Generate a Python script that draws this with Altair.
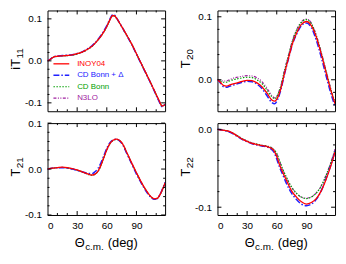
import altair as alt
import pandas as pd

FONT = "Liberation Sans"
FRAME = "#000000"

SERIES = ["INOY04", "CD Bonn + Δ", "CD Bonn", "N3LO"]
COLORS = ["#ff0000", "#2020ff", "#00a000", "#a020a0"]
DASHES = [[], [6, 2, 1.5, 2], [1.5, 1.5], [3, 1.5, 1, 1.5, 1, 1.5]]
WIDTHS = [1.3, 1.5, 1.2, 1.2]
DRAW_ORDER = [3, 2, 1, 0]

X_DOMAIN = [0, 119]
X_LABELS = [0, 30, 60, 90]
X_MINOR = [10, 20, 40, 50, 70, 80, 100, 110]

# ---- iT11 ----
ANG11 = [0, 3, 5, 8, 10, 15, 20, 25, 30, 35, 40, 45, 50, 55, 60, 63, 66, 68, 70, 75, 80, 85, 90, 95, 100, 105, 110, 113, 116, 119]
T11_INOY = [0.0, 0.004, 0.0075, 0.0105, 0.011, 0.012, 0.013, 0.014, 0.017, 0.021, 0.027, 0.035, 0.047, 0.062, 0.082, 0.097, 0.108, 0.107, 0.101, 0.082, 0.062, 0.041, 0.017, -0.007, -0.031, -0.055, -0.080, -0.095, -0.108, -0.104]
T11_CDBD = [0.0, 0.004, 0.008, 0.011, 0.0115, 0.0125, 0.0135, 0.0145, 0.0175, 0.0215, 0.028, 0.036, 0.048, 0.064, 0.084, 0.099, 0.110, 0.109, 0.102, 0.082, 0.061, 0.040, 0.016, -0.008, -0.032, -0.056, -0.082, -0.097, -0.109, -0.103]
T11_CDB = [0.0, 0.004, 0.0075, 0.010, 0.0105, 0.0115, 0.0125, 0.0135, 0.0165, 0.0205, 0.0265, 0.0345, 0.0465, 0.0615, 0.0815, 0.0965, 0.1075, 0.1065, 0.1005, 0.0815, 0.0615, 0.0405, 0.0165, -0.0075, -0.0315, -0.0555, -0.0805, -0.0955, -0.1075, -0.1035]
T11_N3LO = [0.0, 0.004, 0.0075, 0.010, 0.0105, 0.0115, 0.0125, 0.0135, 0.0165, 0.0205, 0.0265, 0.0345, 0.0465, 0.0615, 0.0815, 0.0965, 0.1078, 0.1068, 0.1008, 0.0818, 0.0618, 0.0408, 0.0168, -0.0072, -0.0312, -0.0552, -0.0802, -0.0952, -0.1072, -0.1032]

# ---- T20 ----
ANG20 = [0, 3, 6, 9, 12, 16, 20, 25, 30, 35, 40, 45, 50, 55, 58, 61, 64, 68, 72, 76, 80, 85, 90, 95, 100, 105, 110, 115, 119]
T20_INOY = [0.0, -0.004, -0.009, -0.010, -0.0085, -0.0065, -0.005, -0.0025, -0.001, -0.0015, -0.005, -0.011, -0.021, -0.032, -0.034, -0.028, -0.015, 0.011, 0.035, 0.058, 0.074, 0.088, 0.0925, 0.086, 0.068, 0.041, 0.011, -0.018, -0.038]
T20_CDBD = [0.0, -0.005, -0.011, -0.012, -0.0105, -0.0085, -0.0065, -0.004, -0.0025, -0.003, -0.007, -0.014, -0.025, -0.036, -0.038, -0.031, -0.017, 0.010, 0.034, 0.057, 0.072, 0.086, 0.090, 0.083, 0.063, 0.036, 0.006, -0.023, -0.042]
T20_CDB = [0.0, -0.002, -0.004, -0.004, -0.002, 0.0, 0.0015, 0.003, 0.004, 0.0035, 0.0, -0.006, -0.016, -0.027, -0.030, -0.024, -0.011, 0.015, 0.039, 0.062, 0.078, 0.091, 0.0955, 0.089, 0.070, 0.043, 0.013, -0.017, -0.037]
T20_N3LO = [0.0, -0.001, -0.002, -0.002, 0.0, 0.0025, 0.004, 0.0055, 0.0065, 0.006, 0.003, -0.003, -0.013, -0.025, -0.029, -0.023, -0.010, 0.016, 0.040, 0.063, 0.079, 0.092, 0.0965, 0.090, 0.071, 0.044, 0.014, -0.016, -0.036]

# ---- T21 ----
ANG21 = [0, 5, 10, 15, 20, 25, 30, 35, 40, 45, 48, 51, 54, 57, 60, 63, 66, 70, 73, 76, 80, 85, 90, 95, 100, 105, 108, 111, 114, 117, 119]
T21_INOY = [0.0, 0.002, 0.003, 0.004, 0.003, 0.001, -0.002, -0.006, -0.010, -0.013, -0.011, -0.005, 0.008, 0.025, 0.042, 0.055, 0.062, 0.065, 0.062, 0.055, 0.037, 0.014, -0.008, -0.029, -0.047, -0.061, -0.065, -0.064, -0.055, -0.041, -0.030]
T21_CDBD = [0.0, 0.002, 0.003, 0.003, 0.002, 0.0, -0.003, -0.006, -0.009, -0.010, -0.006, 0.001, 0.013, 0.029, 0.045, 0.057, 0.063, 0.065, 0.061, 0.053, 0.035, 0.012, -0.011, -0.031, -0.049, -0.062, -0.066, -0.064, -0.055, -0.040, -0.029]
T21_CDB = [0.0, 0.002, 0.003, 0.0035, 0.0025, 0.0005, -0.0025, -0.0065, -0.0105, -0.0135, -0.0115, -0.0055, 0.0075, 0.0245, 0.0415, 0.0545, 0.0615, 0.0645, 0.0615, 0.0545, 0.0365, 0.0135, -0.0085, -0.0295, -0.0475, -0.0615, -0.0655, -0.0645, -0.0555, -0.0415, -0.0305]
T21_N3LO = [0.0, 0.002, 0.003, 0.0035, 0.0025, 0.0005, -0.0025, -0.0065, -0.0105, -0.0132, -0.0112, -0.0052, 0.0078, 0.0248, 0.0418, 0.0548, 0.0618, 0.0648, 0.0618, 0.0548, 0.0368, 0.0138, -0.0082, -0.0292, -0.0472, -0.0612, -0.0652, -0.0642, -0.0552, -0.0412, -0.0302]

# ---- T22 ----
ANG22 = [0, 5, 10, 15, 20, 25, 30, 35, 40, 45, 50, 54, 57, 60, 63, 66, 70, 75, 80, 85, 90, 95, 100, 105, 110, 115, 119]
T22_INOY = [0.0, -0.001, -0.002, -0.0045, -0.0085, -0.0125, -0.0155, -0.018, -0.0195, -0.021, -0.022, -0.024, -0.027, -0.035, -0.046, -0.055, -0.066, -0.079, -0.087, -0.093, -0.096, -0.094, -0.089, -0.079, -0.064, -0.046, -0.029]
T22_CDBD = [0.0, -0.001, -0.0025, -0.005, -0.009, -0.013, -0.016, -0.0185, -0.020, -0.0215, -0.0225, -0.025, -0.029, -0.038, -0.049, -0.058, -0.070, -0.082, -0.090, -0.096, -0.098, -0.096, -0.090, -0.079, -0.063, -0.045, -0.028]
T22_CDB = [0.0, -0.001, -0.002, -0.0045, -0.008, -0.012, -0.015, -0.0175, -0.019, -0.0205, -0.0215, -0.023, -0.026, -0.031, -0.041, -0.051, -0.062, -0.074, -0.082, -0.087, -0.089, -0.087, -0.082, -0.073, -0.059, -0.042, -0.026]
T22_N3LO = [0.0, -0.001, -0.002, -0.0045, -0.008, -0.012, -0.015, -0.0175, -0.019, -0.0205, -0.0215, -0.023, -0.026, -0.0315, -0.0415, -0.0515, -0.0625, -0.0745, -0.0825, -0.0872, -0.0885, -0.0865, -0.0815, -0.0725, -0.0585, -0.0415, -0.0255]

TITLE_MAIN = ["iT", "T", "T", "T"]
TITLE_SUB = ["11", "20", "21", "22"]
X_TITLE = ["Θ", "c.m.", "(deg)"]

Y_DOMAINS = [[-0.12, 0.12], [-0.05, 0.11], [-0.1, 0.1], [-0.11, 0.008]]
Y_LABELS = [[-0.1, 0.0, 0.1], [0.0, 0.1], [-0.1, 0.0, 0.1], [-0.1, 0.0]]
Y_MINOR = [
    [-0.08, -0.06, -0.04, -0.02, 0.02, 0.04, 0.06, 0.08],
    [-0.04, -0.02, 0.02, 0.04, 0.06, 0.08],
    [-0.08, -0.06, -0.04, -0.02, 0.02, 0.04, 0.06, 0.08],
    [-0.08, -0.06, -0.04, -0.02],
]

W = 119
HEIGHTS = [102, 102, 93, 93]

CW = {"i": 0.222, "T": 0.611, "0": 0.556, "1": 0.556, "2": 0.556}


def twidth(s, fs):
    return sum(CW.get(c, 0.556) for c in s) * fs


ONE = pd.DataFrame({"k": [0]})


def make_panel(idx, ang, vals, bottom, legend):
    H = HEIGHTS[idx]
    xs = alt.Scale(domain=X_DOMAIN, nice=False, zero=False)
    ys = alt.Scale(domain=Y_DOMAINS[idx], nice=False, zero=False)
    if bottom:
        xaxis = alt.Axis(values=X_LABELS, format="d", ticks=False, tickSize=0, domain=False,
                         grid=False, title=None, labelFontSize=10, labelFont=FONT,
                         labelPadding=6, labelColor="#000")
    else:
        xaxis = None
    yaxis = alt.Axis(values=Y_LABELS[idx], ticks=False, tickSize=0, domain=False, grid=False,
                     title=None, labelFontSize=10, labelFont=FONT, labelPadding=6,
                     labelColor="#000",
                     labelExpr="(datum.value < -1e-9 ? '-' : '') + format(abs(datum.value), '.1f')")
    layers = []
    for i in DRAW_ORDER:
        df = pd.DataFrame({"deg": ang, "val": vals[i]})
        kw = dict(color=COLORS[i], strokeWidth=WIDTHS[i], interpolate="monotone", clip=True)
        if DASHES[i]:
            kw["strokeDash"] = DASHES[i]
        layers.append(alt.Chart(df).mark_line(**kw).encode(
            x=alt.X("deg:Q", scale=xs, axis=xaxis),
            y=alt.Y("val:Q", scale=ys, axis=yaxis)))

    # inward ticks on all four sides
    for tv, L in [(X_LABELS[1:], 4), (X_MINOR, 2)]:
        d = pd.DataFrame({"deg": tv})
        base = alt.Chart(d).mark_rule(color=FRAME, strokeWidth=1)
        layers.append(base.encode(x=alt.X("deg:Q", scale=xs, axis=xaxis), y=alt.value(H), y2=alt.value(H - L)))
        layers.append(base.encode(x=alt.X("deg:Q", scale=xs, axis=xaxis), y=alt.value(0), y2=alt.value(L)))
    for tv, L in [(Y_LABELS[idx], 4), (Y_MINOR[idx], 2)]:
        d = pd.DataFrame({"val": tv})
        base = alt.Chart(d).mark_rule(color=FRAME, strokeWidth=1)
        layers.append(base.encode(y=alt.Y("val:Q", scale=ys, axis=yaxis), x=alt.value(0), x2=alt.value(L)))
        layers.append(base.encode(y=alt.Y("val:Q", scale=ys, axis=yaxis), x=alt.value(W), x2=alt.value(W - L)))

    # y title with subscript
    tm, ts = TITLE_MAIN[idx], TITLE_SUB[idx]
    mw, sw = twidth(tm, 13), twidth(ts, 10)
    yc = H / 2 - 2
    junc = yc - (mw - sw) / 2
    bx = -27.5
    layers.append(alt.Chart(ONE).mark_text(text=tm, angle=270, align="right", baseline="alphabetic",
                                           font=FONT, fontSize=13, color="#000")
                  .encode(x=alt.value(bx), y=alt.value(junc)))
    layers.append(alt.Chart(ONE).mark_text(text=ts, angle=270, align="left", baseline="alphabetic",
                                           font=FONT, fontSize=10, color="#000")
                  .encode(x=alt.value(bx + 2.5), y=alt.value(junc - 0.5)))

    if bottom:
        x0 = W / 2 - 32
        by = H + 32
        layers.append(alt.Chart(ONE).mark_text(text=X_TITLE[0], align="left", baseline="alphabetic",
                                               font=FONT, fontSize=13, color="#000")
                      .encode(x=alt.value(x0), y=alt.value(by)))
        layers.append(alt.Chart(ONE).mark_text(text=X_TITLE[1], align="left", baseline="alphabetic",
                                               font=FONT, fontSize=10, color="#000")
                      .encode(x=alt.value(x0 + 10.6), y=alt.value(by + 3)))
        layers.append(alt.Chart(ONE).mark_text(text=X_TITLE[2], align="left", baseline="alphabetic",
                                               font=FONT, fontSize=13, color="#000")
                      .encode(x=alt.value(x0 + 33.5), y=alt.value(by)))

    if legend:
        for i, s in enumerate(SERIES):
            ly = 54 + 11.6 * i
            kw = dict(color=COLORS[i], strokeWidth=WIDTHS[i])
            if DASHES[i]:
                kw["strokeDash"] = DASHES[i]
            layers.append(alt.Chart(ONE).mark_rule(**kw).encode(
                x=alt.value(6), x2=alt.value(22), y=alt.value(ly)))
            layers.append(alt.Chart(ONE).mark_text(text=s, align="left", baseline="middle",
                                                   font=FONT, fontSize=8, color=COLORS[i])
                          .encode(x=alt.value(30), y=alt.value(ly)))

    return alt.layer(*layers).properties(width=W, height=H)


p11 = make_panel(0, ANG11, [T11_INOY, T11_CDBD, T11_CDB, T11_N3LO], False, True)
p20 = make_panel(1, ANG20, [T20_INOY, T20_CDBD, T20_CDB, T20_N3LO], False, False)
p21 = make_panel(2, ANG21, [T21_INOY, T21_CDBD, T21_CDB, T21_N3LO], True, False)
p22 = make_panel(3, ANG22, [T22_INOY, T22_CDBD, T22_CDB, T22_N3LO], True, False)

chart = alt.concat(
    p11, p20, p21, p22, columns=2,
    spacing={"row": 12, "column": 53}, bounds="flush", align="each"
).properties(
    padding={"left": 2, "top": 0, "right": 2, "bottom": 2}
).configure_view(stroke=FRAME, strokeWidth=1)

chart.save("out.html", embed_options={"renderer": "svg", "actions": False})
